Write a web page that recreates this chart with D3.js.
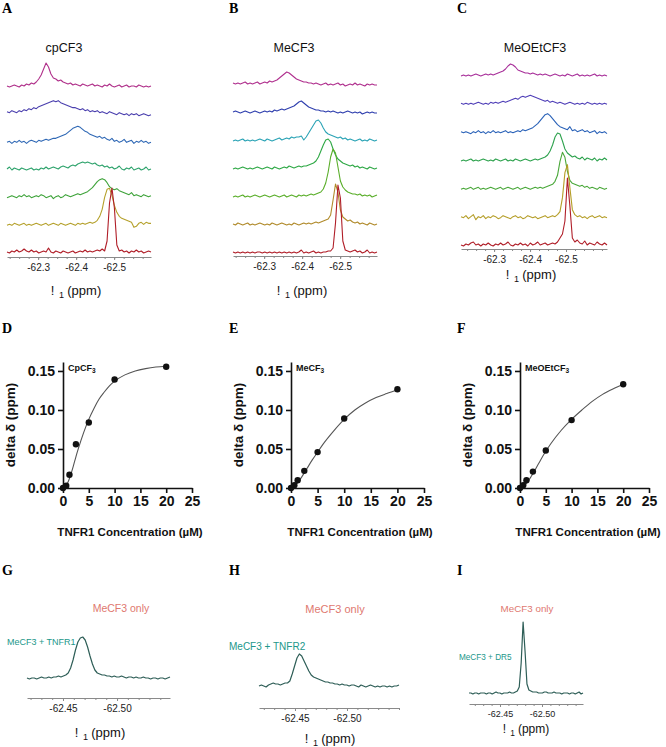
<!DOCTYPE html>
<html><head><meta charset="utf-8">
<script src="https://cdn.jsdelivr.net/npm/d3@7"></script>
<style>body{margin:0;background:#fff}svg{display:block;font-family:"Liberation Sans",Arial,sans-serif}</style>
</head><body><svg id="c" width="666" height="747"></svg>
<script>
// ================= DATA =================
const panelLetters = ["A","B","C","D","E","F","G","H","I"];
const compounds = ["cpCF3","MeCF3","MeOEtCF3"];
const nmrTickLabels = [-62.3,-62.4,-62.5];
const ppmRangeA = [-62.218,-62.597];
const ppmRangeB = [-62.218,-62.597];
const ppmRangeC = [-62.208,-62.614];
// stacked 19F spectra, top to bottom (intensity, arbitrary units)
const specA1 = [1,0,1,2,1,0,2,1,3,2,4,3,5,8,12,18,24,20,13,9,8,6,7,5,4,3,4,2,3,2,1,3,2,1,2,3,1,2,1,0,2,1,3,1,0,1,2,0,1,2,0,1,1,0,2,1,0,1,0,1];
const specA2 = [3,2,4,3,2,4,3,5,4,6,5,7,6,8,9,10,11,12,13,14,13,14,12,11,10,9,8,7,7,6,5,6,4,5,3,4,3,4,2,3,2,1,3,2,1,0,2,1,0,1,-1,1,0,1,-1,0,1,0,-1,0];
const specA3 = [0,1,-1,1,0,2,0,1,-1,1,2,1,0,2,1,2,3,2,3,4,4,5,6,7,8,10,12,14,15,16,15,13,11,10,8,7,6,5,6,4,5,3,2,4,1,2,0,1,3,0,1,2,-1,1,0,2,0,1,-1,0];
const specA4 = [1,3,0,2,1,0,2,1,0,1,2,0,1,0,2,1,3,1,2,3,2,1,3,4,3,2,4,5,4,6,7,8,7,8,7,6,7,5,4,5,3,4,2,3,1,2,4,1,0,2,1,3,0,1,2,0,1,3,0,1];
const specA5 = [0,1,2,1,0,2,1,3,1,2,0,1,2,1,3,2,0,1,2,-1,1,2,0,1,3,2,1,2,3,4,3,4,5,6,8,10,13,16,18,19,18,15,11,9,8,9,7,6,5,4,3,5,2,3,2,1,3,2,1,2];
const specA6 = [0,1,0,2,1,0,1,2,0,1,0,1,2,1,0,1,2,0,1,2,1,0,2,1,0,1,2,1,0,2,1,2,1,2,3,2,3,5,9,16,28,36,37,30,20,13,9,7,6,5,4,3,-2,-1,2,3,1,3,2,2];
const specA7 = [1,0,2,1,3,1,2,4,2,1,3,1,2,0,1,2,1,5,1,0,2,1,0,2,1,0,1,2,0,1,2,1,3,1,2,1,2,3,2,4,2,12,50,65,45,8,2,3,1,2,0,2,1,3,1,2,0,1,2,1];
const specB1 = [2,1,2,1,2,3,1,2,1,2,3,1,2,3,2,4,3,4,5,7,9,11,13,12,10,8,6,5,4,3,3,2,2,1,2,1,0,1,2,0,1,0,1,2,0,1,-1,0,1,0,2,0,1,0,-1,1,0,1,0,0];
const specB2 = [1,2,1,0,1,2,1,0,1,2,1,0,1,2,1,2,1,3,2,3,4,3,4,5,6,7,9,11,12,10,8,6,5,4,3,3,2,2,1,2,1,2,1,0,1,0,1,2,1,0,1,0,1,-1,0,1,0,1,0,0];
const specB3 = [0,1,0,1,2,0,1,0,1,0,1,2,1,0,2,1,0,1,2,3,1,2,3,2,4,3,4,4,5,1,4,8,12,16,20,21,18,13,9,7,6,5,4,3,4,2,3,1,2,1,0,1,2,0,1,0,2,1,0,1];
const specB4 = [0,1,0,1,2,1,0,1,0,1,2,1,0,1,2,1,0,2,1,0,1,2,1,3,2,1,2,3,2,3,3,4,5,6,8,12,18,24,29,30,27,20,14,10,8,6,5,4,3,4,2,3,1,2,1,0,2,1,0,1];
const specB5 = [0,1,0,1,2,0,1,0,1,2,1,0,1,2,1,0,1,2,1,0,1,2,0,1,2,1,0,2,1,2,1,2,3,2,3,4,5,8,14,25,40,48,44,30,16,10,7,5,4,3,3,2,3,1,2,1,2,0,1,2];
const specB6 = [1,0,2,1,0,1,2,0,1,0,1,2,1,0,1,0,2,1,0,1,2,1,0,1,0,2,1,0,1,2,1,2,1,2,3,2,3,4,5,6,10,25,41,33,15,8,6,4,5,3,2,3,1,2,1,0,2,1,0,1];
const specB7 = [1,0,1,0,1,0,1,0,1,0,1,1,0,1,0,1,0,1,0,1,0,1,0,1,0,1,0,1,3,0,1,0,1,2,0,1,0,1,1,2,2,5,30,68,55,12,3,2,1,2,3,1,2,0,1,3,0,1,0,1];
const specC1 = [0,1,0,1,0,1,2,1,0,1,2,1,2,1,2,3,4,5,7,10,12,11,9,6,5,4,3,3,2,3,2,1,2,1,2,1,0,1,2,1,0,1,0,2,1,0,1,2,0,1,0,1,0,1,2,0,1,0,1,0];
const specC2 = [1,0,1,0,1,0,1,2,1,0,1,0,2,1,2,1,2,3,2,3,4,5,6,5,7,8,7,8,9,8,7,6,5,4,3,4,2,3,2,1,2,1,0,1,2,1,0,1,0,1,0,2,1,0,1,0,1,0,1,0];
const specC3 = [1,0,1,0,-1,1,0,2,0,1,-1,1,0,2,0,1,0,1,2,0,1,0,1,2,1,3,2,3,4,5,7,9,12,15,18,19,17,14,11,8,6,5,4,3,6,2,3,1,2,3,1,2,0,1,2,-1,1,0,1,-1];
const specC4 = [0,1,0,1,2,0,1,0,1,2,1,0,1,0,2,1,0,1,2,0,1,0,2,1,0,1,2,1,0,1,2,1,2,3,4,6,10,16,24,28,27,20,12,8,6,4,5,3,2,4,1,3,2,1,3,0,2,1,3,1];
const specC5 = [0,1,0,1,2,0,1,2,0,1,0,1,2,1,0,1,2,0,1,2,1,0,1,2,0,1,2,1,0,1,2,1,2,1,2,3,4,5,8,14,28,37,32,18,9,6,5,4,3,4,2,3,1,2,1,0,2,1,0,1];
const specC6 = [1,0,2,-1,1,3,-2,1,0,2,-1,1,0,2,1,-1,0,2,1,0,-1,1,2,0,1,-1,0,2,1,0,1,-1,0,1,2,0,1,2,1,3,6,20,45,53,30,8,3,1,2,0,1,-1,1,2,0,1,2,0,1,0];
const specC7 = [1,0,2,1,3,4,1,2,0,2,1,3,1,0,2,1,3,1,2,4,1,0,2,1,3,1,2,0,3,1,2,4,1,2,3,1,2,3,2,4,8,12,25,68,40,8,4,6,3,2,5,1,3,2,1,4,2,1,3,1];

// titration (delta delta vs TNFR1 concentration)
const concUM = [0,0.625,1.25,2.5,5,10,20];
const deltaCp = [0,0.003,0.017,0.056,0.084,0.139,0.1555];
const deltaMe = [0,0.0035,0.010,0.022,0.046,0.089,0.1265];
const deltaMeOEt = [0,0.0035,0.010,0.021,0.048,0.087,0.133];
const fitCpX = [0,0.5,1,1.5,2,2.5,3,4,5,6,7,8,9,10,12,14,16,18,20];
const fitCpY = [0,0.002,0.008,0.017,0.028,0.040,0.051,0.071,0.088,0.102,0.114,0.123,0.131,0.137,0.145,0.150,0.153,0.155,0.156];
const fitMeX = [0,1,2,3,4,5,6,8,10,12,14,16,18,20];
const fitMeY = [0,0.005,0.014,0.025,0.036,0.046,0.056,0.073,0.088,0.100,0.109,0.116,0.121,0.1255];
const fitMeOEtX = [0,1,2,3,4,5,6,8,10,12,14,16,18,20];
const fitMeOEtY = [0,0.004,0.013,0.024,0.036,0.047,0.057,0.074,0.088,0.100,0.111,0.120,0.127,0.133];
const yTicksDelta = [0,0.05,0.10,0.15];
const xTicksConc = [0,5,10,15,20,25];
const insetNames = ["CpCF","MeCF","MeOEtCF"];

// receptor selectivity spectra
const receptorLabels = ["MeCF3 + TNFR1","MeCF3 + TNFR2","MeCF3 + DR5"];
const refLabel = "MeCF3 only";
const selTicks = [-62.45,-62.50];
const ppmRangeG = [-62.4167,-62.549];
const ppmRangeH = [-62.4154,-62.550];
const ppmRangeI = [-62.4131,-62.5488];
const specG = [0,-1,0,0,-1,0,1,0,0,1,0,1,1,2,1,2,3,5,10,18,28,36,40,41,38,31,22,14,8,5,4,3,3,2,2,1,2,1,1,2,1,0,1,1,0,1,0,0,1,0,0,-1,0,0,-1,0,0,-1,0,1];
const specH = [0,1,0,-1,1,2,3,2,2,1,2,3,3,5,12,20,28,32,30,25,20,15,11,9,8,7,6,5,4,4,3,3,2,2,1,2,1,1,0,1,1,0,-1,1,0,-1,0,1,0,-1,0,-1,0,0,-1,0,-1,0,0,1];
const specI = [0,0,-1,0,0,-1,0,0,0,-1,0,0,-1,0,1,0,0,-1,0,0,0,1,0,0,1,2,6,30,71,42,9,3,2,1,1,1,0,0,0,1,1,0,0,0,1,0,0,0,-1,0,0,0,-1,0,0,-1,0,1,-1,0];

// ================= DRAW =================
const svg = d3.select("#c");
const serif = '"Liberation Serif","Times New Roman",serif';
const sans = '"Liberation Sans",Arial,sans-serif';

const letterPos = [[2,13],[229,13],[457,13],[2,333],[229,333],[457,333],[2,575],[229,575],[457,575]];
panelLetters.forEach((L,i)=>{
  svg.append("text").attr("x",letterPos[i][0]).attr("y",letterPos[i][1])
    .attr("font-family",serif).attr("font-weight","bold").attr("font-size",14).text(L);
});

function ppmLabel(cx, y, size){
  const t = svg.append("text").attr("x",cx).attr("y",y).attr("text-anchor","middle")
    .attr("font-family",sans).attr("font-size",size).attr("fill","#111");
  t.append("tspan").text("!");
  t.append("tspan").attr("dx",size*0.35).attr("dy",size*0.25).attr("font-size",size*0.7).text("1");
  t.append("tspan").attr("dx",size*0.25).attr("dy",-size*0.25).text("(ppm)");
}

function drawSpectrum(g, x, data, domain, baseY, kScale, color, width){
  const n = data.length;
  const ppmAt = i => domain[0] + i*(domain[1]-domain[0])/(n-1);
  const yI = d3.scaleLinear().domain([0,100]).range([0,100*kScale]);
  const line = d3.line().x((d,i)=>x(ppmAt(i))).y(d=>baseY - yI(d)).curve(d3.curveLinear);
  g.append("path").attr("d",line(data)).attr("fill","none").attr("stroke",color)
    .attr("stroke-width",width).attr("stroke-linejoin","round");
}

function nmrAxis(x, y, majors, fmt, minorStep, fontSize, labelColor){
  const d = x.domain();
  const lo = Math.min(d[0],d[1]), hi = Math.max(d[0],d[1]);
  const minors = d3.range(Math.ceil(lo/minorStep-1e-6), Math.floor(hi/minorStep+1e-6)+1).map(k=>k*minorStep);
  const gm = svg.append("g").attr("transform",`translate(0,${y})`)
    .call(d3.axisBottom(x).tickValues(minors).tickFormat("").tickSize(2).tickSizeOuter(0));
  gm.select(".domain").attr("stroke","#8a8a8a");
  gm.selectAll(".tick line").attr("stroke","#8a8a8a");
  const g = svg.append("g").attr("transform",`translate(0,${y})`)
    .call(d3.axisBottom(x).tickValues(majors).tickFormat(fmt).tickSize(3).tickSizeOuter(0).tickPadding(4));
  g.select(".domain").remove();
  g.selectAll(".tick line").attr("stroke","#8a8a8a");
  g.selectAll(".tick text").attr("font-family",sans).attr("font-size",fontSize).attr("fill",labelColor||"#222");
  return g;
}

// ---- A, B, C stacked spectra ----
const stackPanels = [
  {name:compounds[0], domain:ppmRangeA, spectra:[specA1,specA2,specA3,specA4,specA5,specA6,specA7],
   x0:7, x1:151, top:87, bottom:253, axisY:257, titleX:64, xlabX:76, xlabY:295,
   colors:["#b0308a","#4a3fae","#2f68b5","#2ea36c","#3ea33a","#b5a12c","#b01e28"]},
  {name:compounds[1], domain:ppmRangeB, spectra:[specB1,specB2,specB3,specB4,specB5,specB6,specB7],
   x0:233, x1:377, top:85, bottom:253, axisY:256, titleX:294, xlabX:302, xlabY:295,
   colors:["#b0308e","#2f3fae","#2aa3b5","#2ea845","#5aae2a","#b08a2a","#b01e28"]},
  {name:compounds[2], domain:ppmRangeC, spectra:[specC1,specC2,specC3,specC4,specC5,specC6,specC7],
   x0:461, x1:607, top:76, bottom:246, axisY:249, titleX:535, xlabX:531, xlabY:279,
   colors:["#a8309a","#5040b8","#2a62b8","#2ea24e","#4aa83a","#b59e28","#b01e28"]}
];
stackPanels.forEach(p=>{
  const x = d3.scaleLinear().domain(p.domain).range([p.x0,p.x1]);
  const base = d3.scaleLinear().domain([0,p.spectra.length-1]).range([p.top,p.bottom]);
  const g = svg.append("g");
  p.spectra.forEach((s,k)=> drawSpectrum(g, x, s, p.domain, base(k), 1, p.colors[k], 1.1));
  svg.append("text").attr("x",p.titleX).attr("y",52).attr("text-anchor","middle")
    .attr("font-family",sans).attr("font-size",12.5).attr("fill","#111").text(p.name);
  nmrAxis(x, p.axisY, nmrTickLabels, d=>d.toFixed(1), 0.025, 10);
  ppmLabel(p.xlabX, p.xlabY, 13);
});

// ---- D, E, F titration curves ----
const titrPanels = [
  {pts:deltaCp, fx:fitCpX, fy:fitCpY, name:insetNames[0], x0:63, x1:192, titleX:130},
  {pts:deltaMe, fx:fitMeX, fy:fitMeY, name:insetNames[1], x0:291, x1:424, titleX:360},
  {pts:deltaMeOEt, fx:fitMeOEtX, fy:fitMeOEtY, name:insetNames[2], x0:520, x1:649, titleX:588}
];
titrPanels.forEach(p=>{
  const x = d3.scaleLinear().domain([0,25]).range([p.x0,p.x1]);
  const y = d3.scaleLinear().domain([0,0.1615]).range([488,362]);
  const ga = svg.append("g").attr("transform",`translate(${p.x0},0)`)
    .call(d3.axisLeft(y).tickValues(yTicksDelta).tickFormat(d=>d.toFixed(2)).tickSize(5).tickSizeOuter(0).tickPadding(3));
  const gb = svg.append("g").attr("transform",`translate(0,488)`)
    .call(d3.axisBottom(x).tickValues(xTicksConc).tickFormat(d=>d).tickSize(5).tickSizeOuter(0).tickPadding(3));
  [ga,gb].forEach(g=>{
    g.select(".domain").attr("stroke","#111").attr("stroke-width",1.6);
    g.selectAll(".tick line").attr("stroke","#111").attr("stroke-width",1.6);
    g.selectAll(".tick text").attr("font-family",sans).attr("font-weight","bold").attr("font-size",14).attr("fill","#111");
  });
  const line = d3.line().x((d,i)=>x(p.fx[i])).y(d=>y(d)).curve(d3.curveMonotoneX);
  svg.append("path").attr("d",line(p.fy)).attr("fill","none").attr("stroke","#555").attr("stroke-width",1.1);
  svg.append("g").selectAll("circle").data(p.pts).join("circle")
    .attr("cx",(d,i)=>x(concUM[i])).attr("cy",d=>y(d)).attr("r",3.2).attr("fill","#111");
  const t = svg.append("text").attr("x",p.x0+5).attr("y",371).attr("font-family",sans)
    .attr("font-weight","bold").attr("font-size",9).attr("fill","#111");
  t.append("tspan").text(p.name);
  t.append("tspan").attr("dy",2).attr("font-size",6.5).text("3");
  svg.append("text").attr("transform",`translate(${p.x0-48},425) rotate(-90)`).attr("text-anchor","middle")
    .attr("font-family",sans).attr("font-weight","bold").attr("font-size",13.5).attr("fill","#111")
    .text("delta δ  (ppm)");
  svg.append("text").attr("x",p.titleX).attr("y",536).attr("text-anchor","middle")
    .attr("font-family",sans).attr("font-weight","bold").attr("font-size",11.5).attr("fill","#111")
    .text("TNFR1 Concentration (µM)");
});

// ---- G, H, I receptor selectivity ----
const selPanels = [
  {data:specG, domain:ppmRangeG, x0:27, x1:170, base:678, axisY:698, k:1, label:receptorLabels[0], lx:7, ly:645, lsize:9,
   refX:121, refY:612, refSize:10.5, xlabX:100, xlabY:737, xlabSize:13, tickSize:10},
  {data:specH, domain:ppmRangeH, x0:259, x1:399, base:686, axisY:708, k:1, label:receptorLabels[1], lx:229, ly:650, lsize:10,
   refX:335, refY:613, refSize:11, xlabX:330, xlabY:743, xlabSize:13, tickSize:10},
  {data:specI, domain:ppmRangeI, x0:469, x1:583, base:693, axisY:704, k:1, label:receptorLabels[2], lx:459, ly:660, lsize:8.2,
   refX:527, refY:612, refSize:9.8, xlabX:526, xlabY:733, xlabSize:12, tickSize:9}
];
selPanels.forEach(p=>{
  const x = d3.scaleLinear().domain(p.domain).range([p.x0,p.x1]);
  drawSpectrum(svg, x, p.data, p.domain, p.base, p.k, "#2e5e57", 1.2);
  nmrAxis(x, p.axisY, selTicks, d=>d.toFixed(2), 0.01, p.tickSize);
  svg.append("text").attr("x",p.refX).attr("y",p.refY).attr("text-anchor","middle")
    .attr("font-family",sans).attr("font-size",p.refSize).attr("fill","#e0786f").text(refLabel);
  svg.append("text").attr("x",p.lx).attr("y",p.ly)
    .attr("font-family",sans).attr("font-size",p.lsize).attr("fill","#22978a").text(p.label);
  ppmLabel(p.xlabX, p.xlabY, p.xlabSize);
});
</script></body></html>
